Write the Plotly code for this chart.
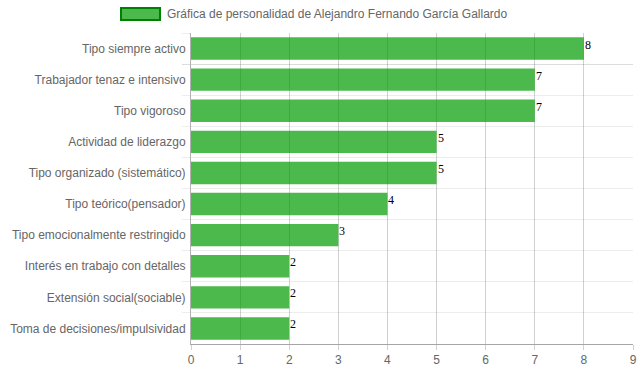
import plotly.graph_objects as go

categories = [
    "Tipo siempre activo",
    "Trabajador tenaz e intensivo",
    "Tipo vigoroso",
    "Actividad de liderazgo",
    "Tipo organizado (sistemático)",
    "Tipo teórico(pensador)",
    "Tipo emocionalmente restringido",
    "Interés en trabajo con detalles",
    "Extensión social(sociable)",
    "Toma de decisiones/impulsividad",
]
values = [8, 7, 7, 5, 5, 4, 3, 2, 2, 2]
series_name = "Gráfica de personalidad de Alejandro Fernando García Gallardo"
x_ticks = list(range(0, 10))

W, H = 639, 372
L, R, T, B = 191, 6, 33, 28
pw, ph = W - L - R, H - T - B

def px(x):
    return (x - L) / pw

def py(y):
    return (H - B - y) / ph

fig = go.Figure()
fig.add_trace(go.Bar(
    x=values, y=categories, orientation="h",
    marker=dict(color="rgba(0,155,0,0.7)", line=dict(width=0)),
    width=0.72, name=series_name, showlegend=False,
    hoverinfo="x+y",
))

for v, c in zip(values, categories):
    fig.add_annotation(x=v, y=c, text=str(v), showarrow=False,
                       xanchor="left", yanchor="middle", xshift=-1, yshift=4,
                       font=dict(family="Liberation Serif, Times New Roman, serif", size=12, color="black"))

# legend drawn manually (wide box like original)
fig.add_shape(type="rect", xref="paper", yref="paper",
              x0=px(121), x1=px(160), y0=py(20), y1=py(8),
              fillcolor="rgba(0,155,0,0.7)", line=dict(color="green", width=2))
fig.add_annotation(xref="paper", yref="paper", x=px(165), y=py(14), text=series_name,
                   showarrow=False, xanchor="left", yanchor="middle",
                   font=dict(family="Liberation Sans, Arial", size=12, color="#666"))

fig.update_layout(
    width=W, height=H,
    margin=dict(l=L, r=R, t=T, b=B, pad=0),
    plot_bgcolor="white", paper_bgcolor="white",
    font=dict(family="Liberation Sans, Arial", size=12, color="#666"),
    bargap=0.28,
)
fig.update_xaxes(range=[0, 9], tickvals=x_ticks, showgrid=True,
                 gridcolor="rgba(0,0,0,0.18)", gridwidth=1,
                 ticks="outside", ticklen=5, tickcolor="rgba(0,0,0,0.18)",
                 showline=True, linecolor="rgba(0,0,0,0.35)", linewidth=1,
                 zeroline=False, fixedrange=True, automargin=False)
fig.update_yaxes(autorange="reversed", type="category", tickson="boundaries",
                 showgrid=True, gridcolor="rgba(0,0,0,0.07)", gridwidth=1,
                 ticks="outside", ticklen=8, tickcolor="rgba(0,0,0,0.07)",
                 showline=True, linecolor="rgba(0,0,0,0.3)", linewidth=1,
                 ticklabelstandoff=2, fixedrange=True, automargin=False)

fig.write_html("out.html", config={"displayModeBar": False},
               post_script="document.body.style.margin='0';document.body.style.padding='0';")
